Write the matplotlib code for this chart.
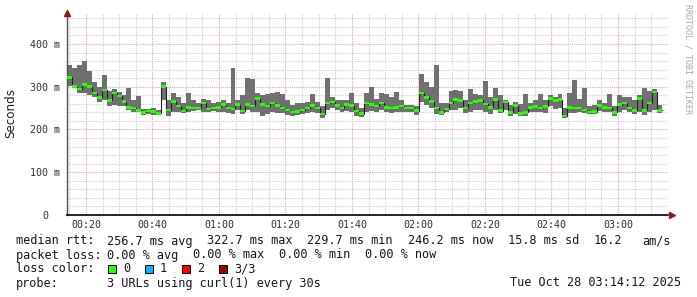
import numpy as np
import matplotlib
matplotlib.use("Agg")
import matplotlib.pyplot as plt
from matplotlib.patches import Rectangle

# ---------- data (ms) ----------
START_MIN = 14.3      # first sample, minutes after 00:00
STEP_MIN = 1.49       # width of one consolidated step

median_ms = [322, 300, 295, 305, 300, 285, 275, 292, 268, 285,
             278, 265, 252, 250, 245, 240, 243, 242, 238, 300,
             246, 265, 255, 243, 252, 250, 250, 262, 248, 250,
             252, 258, 250, 248, 258, 243, 258, 255, 272, 258,
             255, 262, 256, 250, 246, 241, 242, 246, 250, 256,
             250, 236, 262, 264, 256, 250, 258, 256, 243, 237,
             262, 258, 255, 262, 252, 250, 252, 255, 250, 250,
             244, 285, 275, 265, 250, 240, 248, 262, 270, 268,
             250, 262, 266, 268, 260, 252, 270, 244, 264, 240,
             256, 238, 240, 252, 254, 250, 254, 272, 268, 270,
             232, 252, 250, 250, 246, 241, 242, 256, 252, 250,
             240, 258, 262, 250, 245, 272, 245, 262, 288, 245]

smoke_lo = [302, 300, 285, 285, 280, 275, 265, 270, 255, 258,
            255, 255, 245, 240, 240, 235, 237, 235, 234, 270,
            232, 240, 240, 238, 240, 243, 245, 242, 240, 243,
            240, 240, 238, 236, 245, 236, 245, 240, 240, 232,
            236, 240, 238, 238, 235, 232, 233, 236, 238, 242,
            238, 228, 245, 250, 245, 240, 243, 240, 232, 230,
            240, 243, 240, 245, 240, 238, 240, 242, 240, 240,
            235, 265, 258, 250, 236, 235, 240, 245, 245, 250,
            238, 240, 245, 245, 240, 236, 245, 238, 245, 232,
            236, 232, 232, 240, 242, 240, 238, 255, 248, 250,
            228, 238, 238, 240, 238, 236, 236, 243, 242, 240,
            232, 242, 245, 240, 236, 240, 235, 240, 245, 238]

smoke_hi = [350, 345, 350, 360, 338, 310, 300, 328, 290, 295,
            288, 280, 298, 270, 278, 248, 248, 250, 245, 310,
            270, 285, 275, 262, 285, 270, 262, 272, 268, 262,
            265, 270, 262, 345, 268, 280, 320, 318, 285, 280,
            282, 285, 288, 282, 270, 258, 262, 262, 265, 282,
            265, 255, 320, 275, 270, 268, 270, 285, 262, 250,
            285, 300, 272, 285, 282, 275, 288, 270, 258, 258,
            256, 330, 310, 300, 352, 262, 262, 290, 292, 290,
            270, 295, 282, 280, 313, 275, 298, 280, 270, 258,
            265, 260, 282, 262, 268, 282, 270, 280, 275, 282,
            250, 285, 315, 272, 296, 255, 258, 270, 262, 282,
            256, 280, 276, 275, 268, 280, 296, 290, 295, 258]

x_ticks_min = [20, 40, 60, 80, 100, 120, 140, 160, 180]
x_tick_labels = ["00:20", "00:40", "01:00", "01:20", "01:40",
                 "02:00", "02:20", "02:40", "03:00"]
y_ticks_ms = [0, 100, 200, 300, 400]
y_tick_labels = ["0", "100 m", "200 m", "300 m", "400 m"]

legend_rows = [
    ("median rtt:", ["256.7 ms avg", "322.7 ms max", "229.7 ms min",
                     "246.2 ms now", "15.8 ms sd", "16.2", "am/s"]),
    ("packet loss:", ["0.00 % avg", "0.00 % max", "0.00 % min", "0.00 % now"]),
]
loss_labels = ["0", "1", "2", "3/3"]
loss_colors = ["#26ff00", "#00b8ff", "#ff0000", "#a00000"]
probe_text = "3 URLs using curl(1) every 30s"
stamp_text = "Tue Oct 28 03:14:12 2025"

MONO = "DejaVu Sans Mono"
W, H = 697, 297


def px(x, y):
    """pixel position (top-left origin) -> figure fraction"""
    return x / W, 1 - y / H


fig = plt.figure(figsize=(W / 100, H / 100), dpi=100, facecolor="white")
ax = fig.add_axes([67 / W, (H - 215) / H, (668 - 67) / W, (215 - 13) / H])
ax.set_facecolor("white")

n = len(median_ms)
t = START_MIN + STEP_MIN * np.arange(n + 1)
med = np.append(median_ms, median_ms[-1]).astype(float)
lo = np.append(smoke_lo, smoke_lo[-1]).astype(float)
hi = np.append(smoke_hi, smoke_hi[-1]).astype(float)

# grid, rrdtool style
for m in np.arange(15, 196, 5):
    major = m % 20 == 0
    ax.axvline(m, color="#e6a3a3" if major else "#cfcfcf", lw=0.8,
               ls=(0, (1, 1)), zorder=0)
for v in np.arange(20, 472, 20):
    major = v % 100 == 0
    ax.axhline(v, color="#e6a3a3" if major else "#cfcfcf", lw=0.8,
               ls=(0, (1, 1)), zorder=0)

# smoke + median
ax.fill_between(t, lo, hi, step="post", color="#707070", lw=0, zorder=2)
ax.step(t, med, where="post", color="#202020", lw=0.8, zorder=3)
ax.fill_between(t, med - 3.0, med + 3.0, step="post", color=loss_colors[0],
                lw=0, zorder=4)

ax.set_xlim(14.29, 195.04)
ax.set_ylim(0, 472.5)

ax.set_xticks(x_ticks_min, x_tick_labels)
ax.set_yticks(y_ticks_ms, y_tick_labels)
ax.tick_params(axis="both", length=0, labelsize=7.2, colors="#303030")
ax.tick_params(axis="x", pad=3.8)
ax.tick_params(axis="y", pad=15.8)
for lab in ax.get_xticklabels() + ax.get_yticklabels():
    lab.set_fontfamily(MONO)
for lab in ax.get_yticklabels():
    lab.set_ha("center")

for s in ("top", "right"):
    ax.spines[s].set_visible(False)
ax.spines["left"].set_color("#505050")
ax.spines["left"].set_linewidth(1.0)
ax.spines["bottom"].set_color("#000000")
ax.spines["bottom"].set_linewidth(1.2)
ax.plot([0], [1.0], marker="^", ms=4, color="#8b1a1a", transform=ax.transAxes,
        clip_on=False, zorder=6)
ax.plot([1.006], [0], marker=">", ms=4, color="#8b1a1a", transform=ax.transAxes,
        clip_on=False, zorder=6)

# axis title
fig.text(*px(11, 113), "Seconds", rotation=90, ha="center", va="center",
         fontsize=8.6, color="#202020")

# watermark
fig.text(*px(688, 4), "RRDTOOL / TOBI OETIKER", rotation=-90, ha="center",
         va="top", fontsize=6, color="#a8a8a8", family=MONO)

# legend block
txt = dict(fontsize=8.6, family=MONO, color="#181818", va="center")
seg_x = [[107, 207, 307, 408, 508, 594, 642],
         [107, 193, 279, 365]]
for (head, parts), xs, y in zip(legend_rows, seg_x, [241, 255]):
    fig.text(*px(16, y), head, **txt)
    for part, xx in zip(parts, xs):
        fig.text(*px(xx, y), part, **txt)

fig.text(*px(16, 269), "loss color:", **txt)
for i, (lab, col) in enumerate(zip(loss_labels, loss_colors)):
    bx = 108 + 37 * i
    fx, fy = px(bx, 273)
    fig.patches.append(Rectangle((fx, fy), 8 / W, 8 / H, transform=fig.transFigure,
                                 facecolor=col, edgecolor="#000000", lw=0.7))
    fig.text(*px(bx + 15, 269), lab, **txt)

fig.text(*px(16, 283), "probe:", **txt)
fig.text(*px(107, 283), probe_text, **txt)
fig.text(*px(681, 283), stamp_text, ha="right", **txt)

fig.savefig("out.png", dpi=100, facecolor="white")
